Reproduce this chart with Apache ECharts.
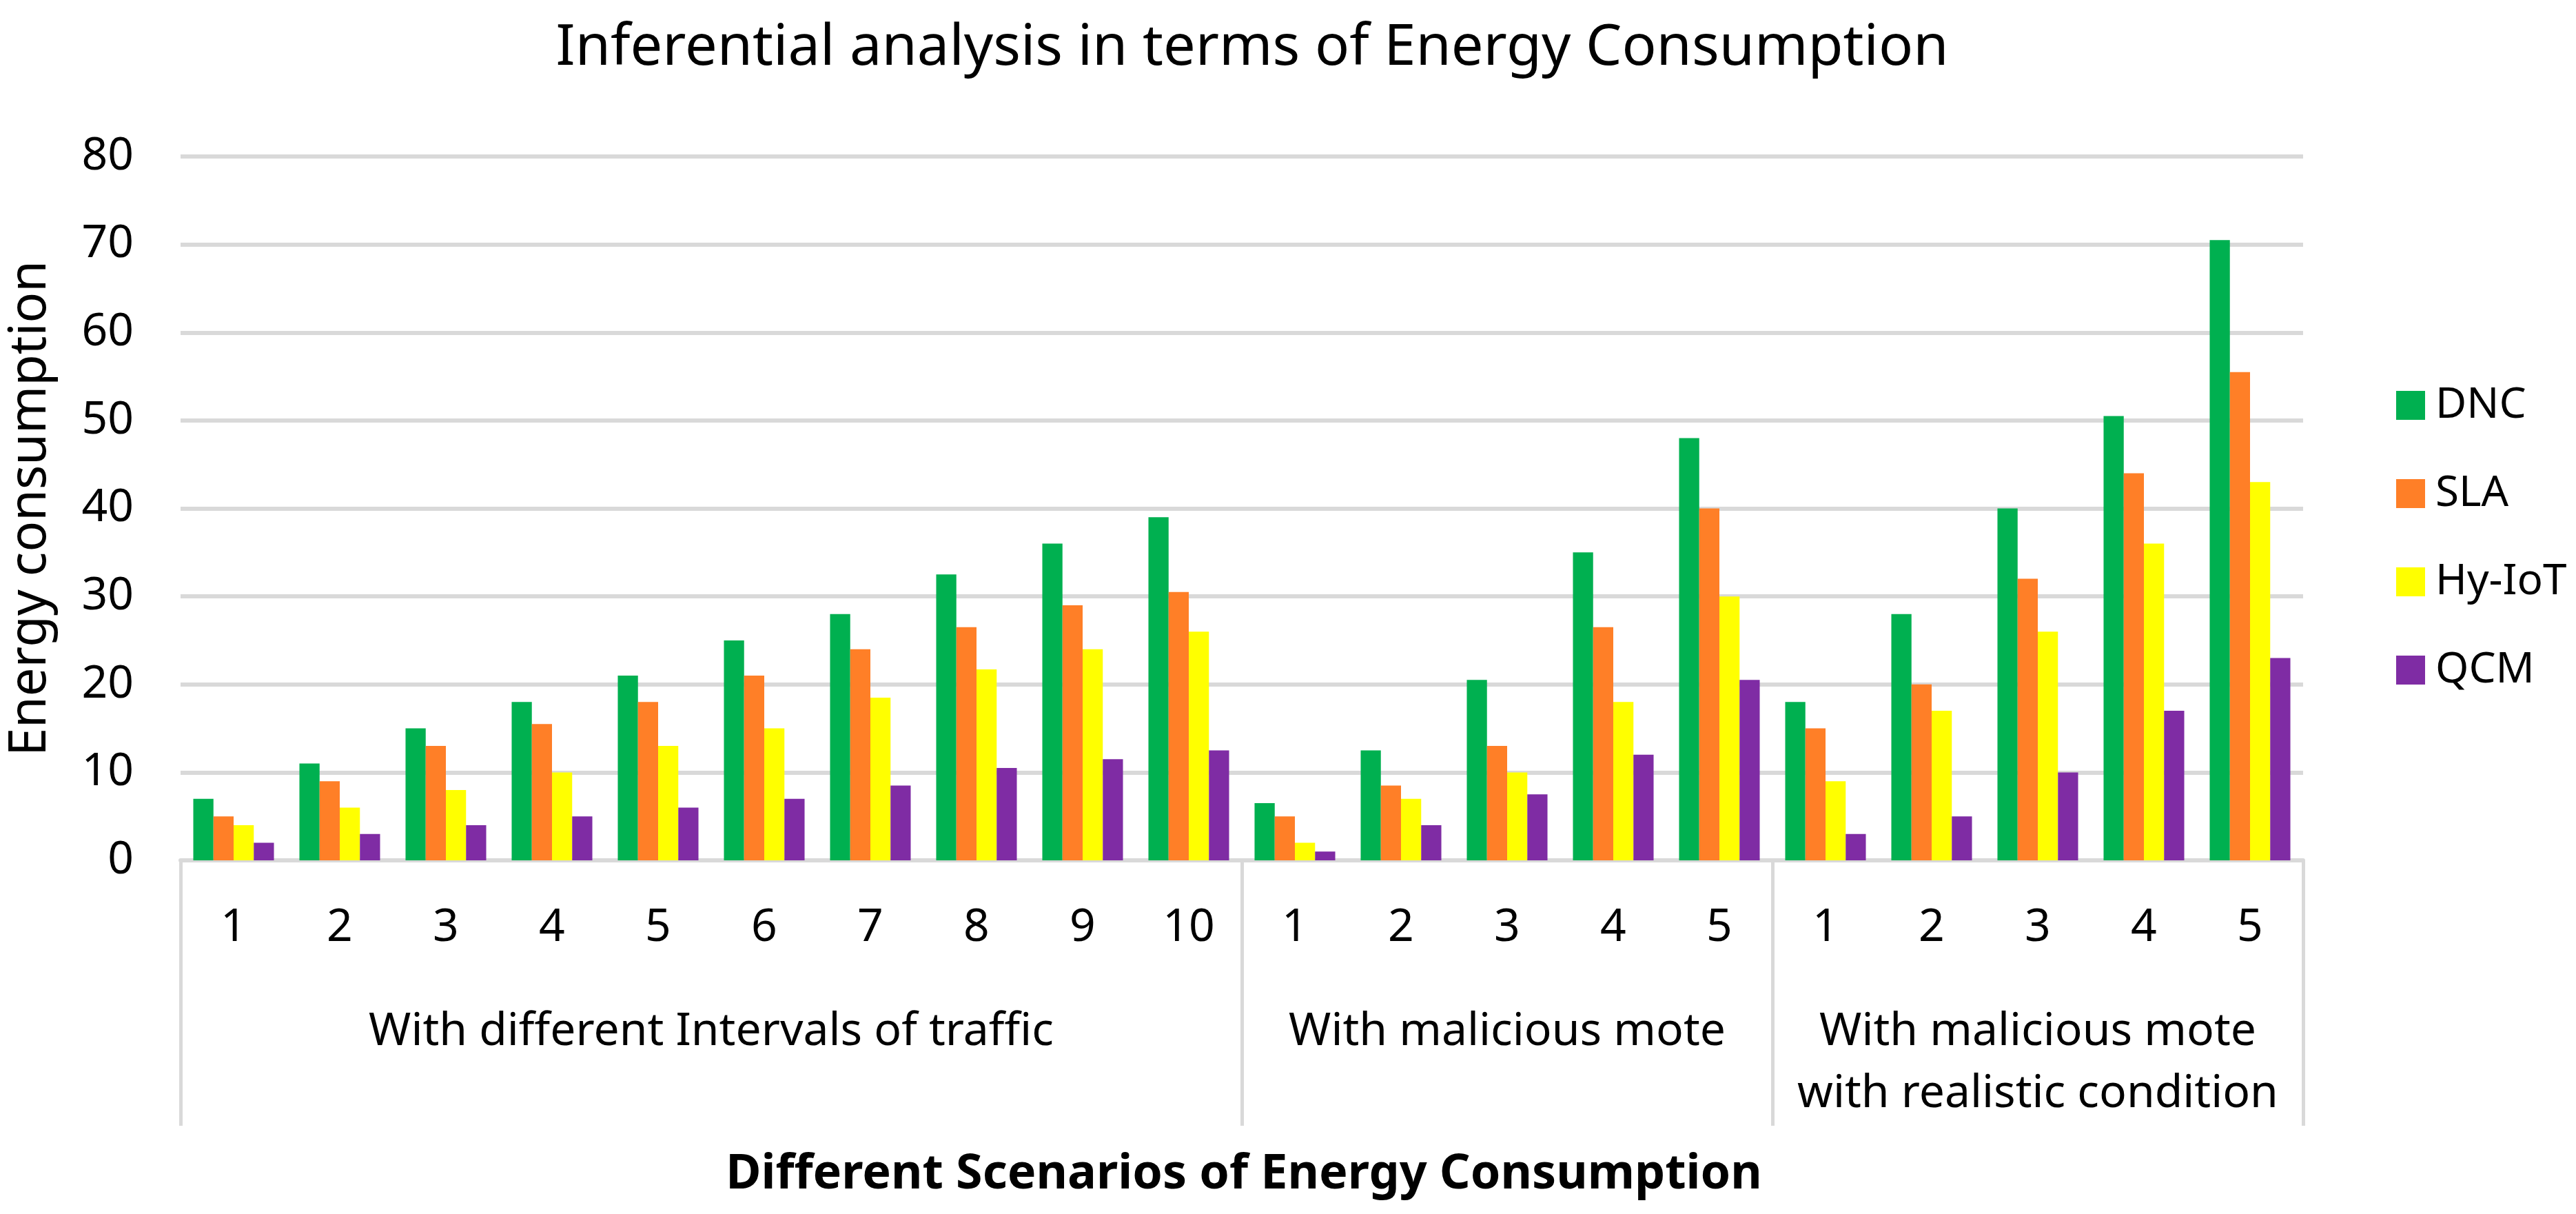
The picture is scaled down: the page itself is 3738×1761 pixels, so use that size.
<!DOCTYPE html>
<html>
<head>
<meta charset="utf-8">
<script src="https://cdn.jsdelivr.net/npm/echarts@6/dist/echarts.min.js"></script>
<style>
html,body{margin:0;padding:0;background:#fff;}
#chart{width:3738px;height:1761px;}
</style>
</head>
<body>
<div id="chart"></div>
<script>
var categories = ['1','2','3','4','5','6','7','8','9','10','1','2','3','4','5','1','2','3','4','5'];
var groupNames = ['With different Intervals of traffic', 'With malicious mote', 'With malicious mote\nwith realistic condition'];
var groupCenters = [5, 12.5, 17.5];
var groupBounds = [0, 10, 15, 20];
var seriesNames = ['DNC', 'SLA', 'Hy-IoT', 'QCM'];
var dnc   = [7, 11, 15, 18, 21, 25, 28, 32.5, 36, 39, 6.5, 12.5, 20.5, 35, 48, 18, 28, 40, 50.5, 70.5];
var sla   = [5, 9, 13, 15.5, 18, 21, 24, 26.5, 29, 30.5, 5, 8.5, 13, 26.5, 40, 15, 20, 32, 44, 55.5];
var hyiot = [4, 6, 8, 10, 13, 15, 18.5, 21.7, 24, 26, 2, 7, 10, 18, 30, 9, 17, 26, 36, 43];
var qcm   = [2, 3, 4, 5, 6, 7, 8.5, 10.5, 11.5, 12.5, 1, 4, 7.5, 12, 20.5, 3, 5, 10, 17, 23];
var yTicks = [0, 10, 20, 30, 40, 50, 60, 70, 80];
var colors = ['#00B050', '#FF7F27', '#FFFF00', '#7F2CA4'];

var FONT = "'Noto Sans', sans-serif";
var grid = {left: 257, right: 396, top: 227, bottom: 513};
var gridColor = '#D9D9D9';

var chart = echarts.init(document.getElementById('chart'), null, {renderer: 'canvas'});
var values = [dnc, sla, hyiot, qcm];
var series = seriesNames.map(function (n, i) {
  return {
    name: n, type: 'bar', xAxisIndex: 0, yAxisIndex: 0,
    data: values[i], barGap: '0%', barCategoryGap: '24%',
    itemStyle: {color: colors[i]}
  };
});

chart.setOption({
  backgroundColor: '#ffffff',
  animation: false,
  textStyle: {fontFamily: FONT},
  title: [{
    text: 'Inferential analysis in terms of Energy Consumption',
    left: 1812, top: 24, textAlign: 'center',
    textStyle: {fontFamily: FONT, fontSize: 83, fontWeight: 'normal', color: '#000'}
  }, {
    text: 'Different Scenarios of Energy Consumption',
    left: 1800, top: 1664, textAlign: 'center',
    textStyle: {fontFamily: FONT, fontSize: 70, fontWeight: 'bold', color: '#000'}
  }],
  legend: {
    orient: 'vertical', left: 3472, top: 552,
    itemWidth: 42, itemHeight: 42, itemGap: 66, icon: 'rect',
    data: seriesNames,
    textStyle: {fontFamily: FONT, fontSize: 62, lineHeight: 62, color: '#000', padding: [0, 0, 0, 10]}
  },
  grid: grid,
  xAxis: [{
    type: 'category', data: categories, position: 'bottom',
    axisLine: {show: true, lineStyle: {color: gridColor, width: 6}},
    axisTick: {show: false},
    axisLabel: {interval: 0, fontFamily: FONT, fontSize: 66, lineHeight: 72, color: '#000', margin: 62},
    splitLine: {show: false}
  }, {
    type: 'value', min: 0, max: 20, position: 'bottom',
    axisLine: {show: false},
    splitLine: {show: false},
    axisTick: {show: true, customValues: groupBounds, length: 385, lineStyle: {color: gridColor, width: 5}},
    axisLabel: {
      customValues: groupCenters, fontFamily: FONT, fontSize: 66, lineHeight: 90, color: '#000', margin: 204,
      align: 'center',
      formatter: function (v) {
        for (var i = 0; i < groupCenters.length; i++) {
          if (Math.abs(groupCenters[i] - v) < 0.01) return groupNames[i];
        }
        return '';
      }
    }
  }],
  yAxis: {
    type: 'value', min: 0, max: 80, interval: 10,
    name: 'Energy consumption', nameLocation: 'middle', nameGap: 180,
    nameTextStyle: {fontFamily: FONT, fontSize: 74, color: '#000'},
    axisLine: {show: false}, axisTick: {show: false},
    axisLabel: {fontFamily: FONT, fontSize: 66, color: '#000', margin: 68,
      customValues: yTicks},
    splitLine: {show: true, lineStyle: {color: gridColor, width: 6}}
  },
  series: series
});
</script>
</body>
</html>
